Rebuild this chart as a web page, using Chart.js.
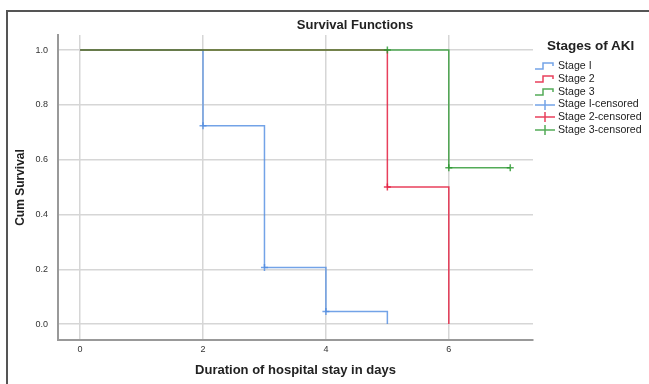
<!DOCTYPE html>
<html>
<head>
    <title>Survival Functions</title>
    <style>
        body { margin: 0; background: #fff; font-family: "Liberation Sans", Arial, sans-serif; }
        #wrap { position: relative; width: 649px; height: 384px; overflow: hidden; }
        #frame { position: absolute; left: 6px; top: 10px; width: 700px; height: 400px; border-left: 2px solid #555; border-top: 2px solid #555; }
        #title { position: absolute; left: 0; width: 710px; top: 17px; text-align: center; font-weight: bold; font-size: 13px; color: #222; }
        #legend { position: absolute; left: 535px; top: 38px; color: #222; }
        #legend .head { font-weight: bold; font-size: 13.5px; margin-left: 12px; margin-bottom: 6px; }
        #legend .item { height: 12.8px; font-size: 10.6px; line-height: 12.8px; white-space: nowrap; }
        #legend svg { vertical-align: middle; margin-right: 3px; }
        canvas { position: absolute; left: 0; top: 0; }
    </style>
</head>
<body>
<div id="wrap">
    <div id="frame"></div>
    <canvas id="km" width="649" height="384"></canvas>
    <div id="title">Survival Functions</div>
    <div id="legend"></div>
</div>
<script src="https://cdn.jsdelivr.net/npm/chart.js"></script>
<script>
    // Kaplan-Meier steps
    const stage1 = [[0, 1], [2, 0.724], [3, 0.207], [4, 0.046], [5, 0]];
    const stage2 = [[0, 1], [5, 0.5], [6, 0]];
    const stage3 = [[0, 1], [6, 0.571], [7, 0.571]];
    const stage1Censored = [[2, 0.724], [3, 0.207], [4, 0.046]];
    const stage2Censored = [[5, 0.5]];
    const stage3Censored = [[5, 1], [6, 0.571], [7, 0.571]];
    const xTicks = [0, 2, 4, 6];
    const yTicks = [0, 0.2, 0.4, 0.6, 0.8, 1.0];

    const blue = "rgba(80,140,225,0.8)";
    const red = "rgba(228,30,64,0.85)";
    const green = "rgba(40,150,45,0.8)";

    const pts = arr => arr.map(p => ({x: p[0], y: p[1]}));

    // lower order is drawn on top, so green ends up over the others on the 1.0 line
    function stepSet(label, data, color, order) {
        return { label, data: pts(data), borderColor: color, borderWidth: 1.5, stepped: true,
                 pointRadius: 0, fill: false, order };
    }
    function censorSet(label, data, color) {
        return { label, data: pts(data), borderColor: color, backgroundColor: color, showLine: false,
                 pointStyle: "cross", pointRadius: 3.5, pointBorderWidth: 1.5, order: 0 };
    }

    Chart.defaults.font.family = '"Liberation Sans", Arial, sans-serif';

    new Chart(document.getElementById("km"), {
        type: "line",
        data: {
            datasets: [
                stepSet("Stage I", stage1, blue, 3),
                stepSet("Stage 2", stage2, red, 2),
                stepSet("Stage 3", stage3, green, 1),
                censorSet("Stage I-censored", stage1Censored, blue),
                censorSet("Stage 2-censored", stage2Censored, red),
                censorSet("Stage 3-censored", stage3Censored, green)
            ]
        },
        options: {
            responsive: false,
            animation: false,
            layout: { padding: { left: 8, top: 35, right: 116, bottom: 0 } },
            plugins: { legend: { display: false }, tooltip: { enabled: false } },
            scales: {
                x: {
                    type: "linear", min: -0.36, max: 7.37,
                    afterBuildTicks: s => { s.ticks = xTicks.map(v => ({value: v})); },
                    afterFit: s => { s.height = 44; },
                    ticks: { font: { size: 9 }, color: "#333", padding: 4, callback: v => String(v) },
                    grid: { color: "#d6d6d6", lineWidth: 1.5, drawTicks: false },
                    border: { color: "#999", width: 2 },
                    title: { display: true, text: "Duration of hospital stay in days", color: "#222",
                             font: { size: 13, weight: "bold" }, padding: { bottom: 6 } }
                },
                y: {
                    min: -0.058, max: 1.055,
                    afterBuildTicks: s => { s.ticks = yTicks.map(v => ({value: v})); },
                    afterFit: s => { s.width = 50; },
                    ticks: { font: { size: 9 }, color: "#333", padding: 10, callback: v => v.toFixed(1) },
                    grid: { color: "#d6d6d6", lineWidth: 1.5, drawTicks: false },
                    border: { color: "#999", width: 2 },
                    title: { display: true, text: "Cum Survival", color: "#222",
                             font: { size: 12, weight: "bold" }, padding: { top: 5 } }
                }
            }
        }
    });

    // legend with step and cross icons
    const legendItems = [
        ["Stage I", blue, "step"], ["Stage 2", red, "step"], ["Stage 3", green, "step"],
        ["Stage I-censored", blue, "cross"], ["Stage 2-censored", red, "cross"], ["Stage 3-censored", green, "cross"]
    ];
    let html = '<div class="head">Stages of AKI</div>';
    legendItems.forEach(([name, color, kind]) => {
        const path = kind === "step" ? "M0,8 H8 V2 H18 V5" : "M0,5 H20 M10,0 V10";
        html += `<div class="item"><svg width="20" height="10"><path d="${path}" fill="none" stroke="${color}" stroke-width="1.5"/></svg>${name}</div>`;
    });
    document.getElementById("legend").innerHTML = html;
</script>
</body>
</html>
